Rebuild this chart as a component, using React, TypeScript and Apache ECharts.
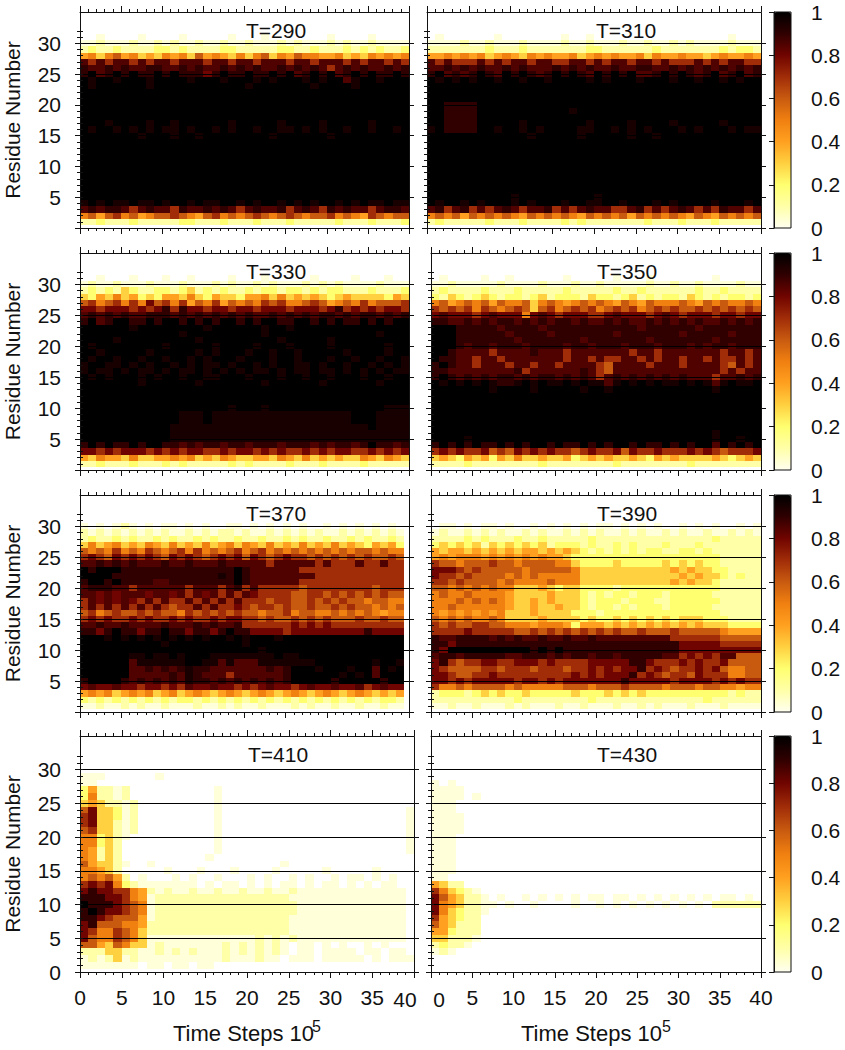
import React, { useEffect, useRef } from "react";
import * as echarts from "echarts";

// Each list holds residues 31 (first) down to 1 (last). One character per 1e5-step column:
// "." = 0.03, 0-9 = tenths, z = 0.85, y = 0.95, x = 1. A single character covers the whole row; short rows end in 0.
const T290 = [
  "00.0000.0000.00000.000.0000000.0000.0000",
  "..1...1..1.1..1..1..1...1.1...1.1..1....",
  "1211211112212111122111112211211121212112",
  "4535645343545364543535635465544534354545",
  "z7z7zz7z7zz7zzz7zz7zz7zzz7zz7zzz7z7zz7z7",
  "9zz9z9zz99zz9z9zz9z9z9zz9z9z9z7z9z9zz9z9",
  "9xz9x9x99x9x99989x99x99x9xz9x9xz9x9x99x9",
  "xyxxyxxxyxxxxyxxxyxxxyxyxxxyxyxxzyxxyxxx",
  "xyxxxxxxyxxxxxxxxxxxyxxxxxxxyxxxxyxxxxxx",
  "x", "x", "x", "x", "x",
  "xxxyxxxxyxxyxxxxxxyxxxxxyxxxxyxxxxxyxxxx",
  "xyxxyxyxyxyyxyxxyxyxxyxxyyxyxyxxyxxyxxyx",
  "xxxxxxxyxxxyxxyxxxxxxxxyxxxxxxyxxxxxxxxx",
  "x", "x", "x", "x", "x", "x", "x", "x", "x", "x",
  "yxyxyyxyyxyxxyxyyxxyxyxxyxyxyxxyxyxyyxyy",
  "z9z99z7z9zz79zz9z9z7z9zz97z9z79z9zz7z99z",
  "5646756456676546756567656765667565476566",
  "1121112111112211121112111211111211121112",
];
const T310 = [
  "0.000000.0000000.00.0000000000000000.000",
  "....1..1...1....1..1...1..1..1.1....1...",
  "1111111211121111111221111112111111121221",
  "4454545345435454453454544535445443454454",
  "z7z777z7z7zz7zz77zz7z7zz7zz7z777z7z7zz77",
  "zz9z9z9zz9z9zzz9z9z9zz9zz99zz9z9z9z9z9z9",
  "9xz9z9x9zx9x9z9x9x9zx9x9xzz9x9x9z9xz9xz9",
  "xyxyxyxxyxxyxxyxxxxyxyxxxyxxxyxxyxxyxyxx",
  "x", "x", "x",
  "xx9999xxxxxxxxxxxxxxxxxxxxxxxxxxxxxxxxxx",
  "xx9999xxxxxxxxxxxyxxxxxxxxxxxxxxxxxxxxxx",
  "xx9999xxxxxxxxxxxxxxxxxxxxxxxxxxxxxxxxxx",
  "xx9999xxxxxyxxxxxxxyxxxxyxxxxyxxxxxyxxxx",
  "yx9999xxyxxyxyxxxxyyxxyxyxyxxxyxyxxxyxyy",
  "xxxxxxxxxxxxyxxxxxyxxxxxyxxyxxxxxxxxxxxx",
  "x", "x", "x", "x", "x", "x", "x", "x", "x",
  "xxxxxxxxxxyxxxxxxxxxyxxxxxxxxxxxxxxxxxxx",
  "xyxxyxyxxxyxyxxxyxxyyxxyxxxyxyxxxxyxxxyx",
  "z97z97z7z9z7zz97z7z9zz77z97z7z9z7z79zz7z",
  "5656465656546565654656564656565465465656",
  "1211111211121111212111111121112111211111",
];
const T330 = [
  "00.000.000.00.0000.000.00000.0000.000.00",
  ".1..1...1...1...1.1..1.1...1.1.1....1...",
  "1212132112212312121121221221212211121112",
  "3243534232443532433244535343432343333243",
  "6756757586757465746565767556764565756667",
  "8878887878979887887887888788878978787887",
  "z9z9z9zz999z9z9z9z9z9zz9z9z9z99z9z99z9z9",
  "9xz9xx99x9xx9x9x9xx9x9xx99xx9x9x99x9x9xx",
  "xxxxxxyxxxxxxxxyxxxxxxyxxyxxxxxxxxxxxxxx",
  "xxxxxxxxxxxxyxxxxxxxxxyxxxxxxxxxxxxxyxxx",
  "xxxxyxxxxxxxxxyxxxxxxxxxyxxxxxyxxxxxxxxx",
  "xyxxxxxxxxyxxxxxyxxxxyxxxyxxxxyxxxxxxyxx",
  "xxyxxxxxyxxxxxyxyxxxyxxyxxyxxxxxyxxxxyxx",
  "xyxxyxxyxxyxxyxyxxxyxxxyxxyxxxyxxyxxyxxy",
  "yxxyyxyxyxxyxyxyyxyxxyxyxxyyxyxxyxxyxyxy",
  "yxyyxyxyyxyxyyxyxyxyxyyxyxyyxyyxyxyxyxyy",
  "xyxyxxxyxyxxyxxyyxxxyxxxyxxyxxyxxxyxxyxx",
  "xxxxxxxyxxxxxxyxxxxxxxyxxxxxxyxxxxxxyxxx",
  "x", "x", "x",
  "xxxxxxxxxxxxxxxxxxyxxxyxxxxxxxxxxxxxxyyy",
  "xxxxxxxxxxxxyyyxyyyyyyyyyyyyyyyyyxxxyyyy",
  "xxxxxxxxxxxxyyyxyyyyyyyyyyyyyyyyyxxxyyyy",
  "xxxxxxxxxxxyyyyyyyyyyyyyyyyyyyyyyyyxyyyy",
  "xxxxxxxxxxxyyyyyyyyyyyyyyyyyyyyyyyyyyyyy",
  "xxxxxxxxxxxyyyyyyyyyyyyyyyyyyyyyyyyyyyyy",
  "9x9x99x9xx99z9z99z99z999z999z9z99z9x99z9",
  "8878788878787887787887878778787887787878",
  "4354435334454534354334435435343433543543",
  "1121112111212111112121111211121111211111",
];
const T350 = [
  "0.0000.00.000000.00000.000.0000000.00000",
  "..1.....1....1...1..1.....1..1..1....1..",
  "1211112111211111211111211211111121121111",
  "2132123212212312221322123121221321212212",
  "5645656465563565456565465465556546565565",
  "7676757656763675676756767567676676767676",
  "8z88878z88858z87888778z88878z87888788788",
  "99zz9z9z99z9z9z99z9zz9z9zz9z9z9z9zz9z9z9",
  "xxx99999z9999z99999999999z999999z9999999",
  "xxx999999z9999z9999999z9999999z99999z999",
  "xxx9999999z9999999z9999999z9999999z99999",
  "xxx9z99z999z9999z99z999z999z999z9z99z999",
  "xx9zzzz7zzzz9zzz7zzzzzzz7zz7zzzzzzz7zz7z",
  "x99zz7zz7zzzzzzz7zz7z77zz7z7zz7zz7z77z7z",
  "9x9zz7zzz7zz7zz7zzzz76zzzz7zzz7zzzz76z7z",
  "99zzzzzzzz97zzzzzz9z76zzzzzzzzzzzzz7z7zz",
  "9x9z9z9z99z9z99z9z9z7z9z9z9z9z9zzz7zz9z9",
  "xyxyxyxy99yxyxyyxyxyyzyxyxyxyyxyxyzyxyyx",
  "xxxxxxxyxxxxyxxxxxyxxyxxxxxxxxxxxxyxxxxx",
  "x", "x", "x", "x", "x", "x",
  "xxxxxxxxxxxxxxxxxxxxxxxxxxxxxxxxxxyxxxxx",
  "xxxxyxxxxxxxxxxxxxxxxxxxxxxxxxxxxxyxxyxx",
  "9x9x9x99x9x9xx9x99x9x9xx9x99x9x9xxzx9x9x",
  "7878778676878787767877868778777878767778",
  "3432434243533433423434334324343333432343",
  "1111211111111211111111211111111211111111",
];
const T370 = [
  "0",
  ".0.0.1.0.0..0.0.00..0.0.0.0.00.0.0.0.0.0",
  "1.1.1.1.1.1..1.1.11.1..1.1.1.1..1.1.1.1.",
  "1211212112121121211211211212112112121121",
  "3534534354353435345354353435343534324342",
  "6565756576567575656756756565656565665655",
  "7876878787687876787868767877676767676676",
  "zz9z9z9zzz9zz9zzz9zzzzz7zzzzz7z777z77z77",
  "x9xxx99999999999999x9zzzzzz7777777777777",
  "xxxx9999999999999y9x9zzzzzzzz77777777777",
  "9xx9x9999zz99999999x9zzzzzz7777777777777",
  "z999zz7zzzzzz7zzz7z97z777776777777776777",
  "zz8z8zzz8zz8z7z8z7z7z8777766776767676766",
  "7z8z8z87z7z77z7z7z7z77767766767676656655",
  "7z7z7z7z7z7677z7z77876776766766767665656",
  "6756766767665767676766566756655656565455",
  "7878778787787877878877676676767666766766",
  "zz9zz9zzzz9zzz9z9zz977777787878777777777",
  "9989x99899x9989989x998888788888888898888",
  "xxxyxyxyxyxyxyxyxxyxyxxxyxxxxxxxxxxxxxxx",
  "xxxxxxxxxxyxxxxxxxxxyxxxxxxxxxxxxxxxxxxx",
  "xxxxxxxxxxxxxxxxxxxxxxyxxxxxxxxxxxxxxxxx",
  "xxxxxxyyxyyxyxxxyyyyyyyyxyyxxxxxxxxxxxxx",
  "xxxxxxzyyyyyyxxyyzyzzzyyyyyyyxxxxxxxyxxy",
  "xxxxxxzz9z9z9y99zzzzzzz9z9xxxyxxxyxxzxyx",
  "xxxxxxzzzzz9zy9zzz7zzzzzz9xxxxxxyxyxzxxx",
  "9xxxx9z9z9z9zy99z9z9z9z9z9xxxxx9xxxxx9xx",
  "8z88z88788787z88z887878z8878z88z88z78z88",
  "4545345453453454345434543454345434543434",
  "2121212121212212121212121212121212121221",
  "..1..1.1..1...1..1.1..1...1.1..1..1..1..",
];
const T390 = [
  "0",
  "0..0.0..0.00.0.0.0.0..0.0.0.00.0.0.00.0.",
  ".1..1.1.1..1.1..1.1.1..1.1..1.1..1..1.1.",
  "1111212111211211111211111111111111211111",
  "2323231323232312221211212111211121111111",
  "4344343434344343432121212122112212111111",
  "4545554545454544322222222222222222211111",
  "7665666766566665532222322222323232211111",
  "8887676666656666653333333333343433221111",
  "8776766665656555553333333333334343321211",
  "7767666656555565553333333333343433211111",
  "6656565655333432332222122222222222211111",
  "5655655554333343332121221222122222111111",
  "5556565654334343332122212221122222211111",
  "5565555554334334332122121222122222111111",
  "5454545453334333322212222222222222211111",
  "6565655653333433332322323232323332221111",
  "7676677665554555424443434343434343332222",
  "7777877777667676767676766766676666654444",
  "9zz9999z9z9zz9zz9zz9zzzzzzzzz77777766666",
  "9989999999999999999999999999998888877777",
  "98xxxxxxxxxx9x9x999999999999998888888888",
  "z99z99999zz999z9z99z99z99999zz78787zz666",
  "8976778877888787777888889987778787786666",
  "8766667767776777677878788978767787865566",
  "8876677877777777787878889787677687775566",
  "8878788888788787888888898888878888787877",
  "7556566665655555666566676666566656655455",
  "1222123232232222232223232322222222221211",
  "1111111111211111111211111111111112111111",
  "..1..1...1.1...1..1...1..1.1...1...1....",
];
const T410 = [
  "0",
  "0",
  "...000000.",
  "..000000",
  "2411.10000000000.",
  "2511.10000000000.",
  "34311.1000000000.",
  "68332.1000000000.0000000000000000000000.",
  "78332.1000000000.0000000000000000000000.",
  "78331.1000000000.0000000000000000000000.",
  "67331.1000000000.0000000000000000000000.",
  "55231.0000000000.0000000000000000000000.",
  "5523100000000000.0000000000000000000000.",
  "5413100000000000.0000000000000000000000.",
  "541310000000000.0000000000000000000000",
  "64331.00.000000000000000.00000000000000",
  "5543100000.000.000.0000.00000.00000.000",
  "5656410.000.0.00.000.0.00.0.00.0..0.0.0",
  "7878521.......0.0..0.0.0..0.0..0.0.0..0",
  "898877541.1..1..1..1..1..1.............",
  "99988754.1111111111111111..............",
  "x9998765.11111111111111111.............",
  "9x988765.11111111111111111.............",
  "99876664.1111111111111111..............",
  "8966655411111111111111111..............",
  "8755765311111111111111111..............",
  "86557653.............1.1.1.............",
  "66436533.1.......1.1.1.1.0..0.0.00.0.00",
  "1113311..1.1.1...1.1.1.1.0..0....0..0..",
  ".1.13.1..........1...1..0...0.....0.0...",
  ".......0..0..0..0",
];
const T430 = [
  "0",
  "0",
  "0",
  ".0.0",
  "....",
  "....0.",
  "...",
  "...",
  "....",
  "....",
  "....",
  "...",
  "...",
  "...",
  "...",
  "...",
  "...",
  "..0",
  "4311",
  "75321.",
  "864311.0.00.0.0.0.0..0..0.0.0.0.0.0..0.0",
  "854311..0.00.0000.00.0.0.0.0.0.0.0111111",
  "853211.",
  "743211",
  "643111",
  "442111",
  "33111.",
  "1211.",
  ".1.",
  "0",
  "0",
];

const xTicks = [0, 5, 10, 15, 20, 25, 30, 35, 40];
const majorY = [0, 5, 10, 15, 20, 25, 30];
const rampColors = ["#fffff0", "#ffffa8", "#ffff70", "#ffd040", "#ffa020", "#f08010", "#c85a10", "#a02c08", "#700400", "#300000", "#000000"];

const FONT = "Liberation Sans";
const INK = "#111";
const FS = 21;

const rowsBox = [
  { top: 12, bottom: 228 },
  { top: 253, bottom: 470 },
  { top: 495, bottom: 712 },
  { top: 736, bottom: 972 },
];
const panels = [
  { name: "T=290", rows: T290, row: 0, left: 80, right: 409, xEnd: 40, tx: 276 },
  { name: "T=310", rows: T310, row: 0, left: 427, right: 761, xEnd: 40, tx: 626 },
  { name: "T=330", rows: T330, row: 1, left: 80, right: 409, xEnd: 40, tx: 276 },
  { name: "T=350", rows: T350, row: 1, left: 431, right: 761, xEnd: 40, tx: 627 },
  { name: "T=370", rows: T370, row: 2, left: 80, right: 409, xEnd: 39.4, tx: 276 },
  { name: "T=390", rows: T390, row: 2, left: 431, right: 761, xEnd: 40, tx: 627 },
  { name: "T=410", rows: T410, row: 3, left: 80, right: 414, xEnd: 40, tx: 278 },
  { name: "T=430", rows: T430, row: 3, left: 431, right: 761, xEnd: 40, tx: 627 },
];

function charValue(c: string) {
  if (c === ".") return 0.03;
  if (c === "x") return 1;
  if (c === "y") return 0.95;
  if (c === "z") return 0.85;
  return Number(c) / 10;
}

function cells(rows: string[], xEnd: number) {
  const out: number[][] = [];
  const w = xEnd / 40;
  rows.forEach((row, i) => {
    const res = 31 - i;
    if (row.length === 1) {
      const v = charValue(row);
      if (v > 0) out.push([0, xEnd, res - 0.5, res + 0.5, v]);
      return;
    }
    for (let k = 0; k < row.length && k < 40; k++) {
      const v = charValue(row[k]);
      if (v > 0) out.push([k * w, (k + 1) * w, res - 0.5, res + 0.5, v]);
    }
  });
  return out;
}

function renderCell(_: any, api: any) {
  const a = api.coord([api.value(0), api.value(3)]);
  const b = api.coord([api.value(1), api.value(2)]);
  const x = Math.round(a[0]);
  const y = Math.round(a[1]);
  return {
    type: "rect",
    shape: { x, y, width: Math.round(b[0]) - x, height: Math.round(b[1]) - y },
    style: { fill: api.visual("color") },
  };
}

function buildOption() {
  const grid: any[] = [];
  const xAxis: any[] = [];
  const yAxis: any[] = [];
  const series: any[] = [];
  const graphic: any[] = [];
  const visualMap: any[] = [];
  const line = { lineStyle: { color: INK, width: 1 } };
  const labelStyle = { fontFamily: FONT, fontSize: FS, color: INK };

  panels.forEach((p, i) => {
    const box = rowsBox[p.row];
    const frameH = box.bottom - box.top;
    const gridTop = Math.round(box.bottom - (frameH * 32) / 35);
    const isBottom = p.row === 3;
    const isLeft = i % 2 === 0;
    grid.push({ left: p.left, width: p.right - p.left, top: gridTop, height: box.bottom - gridTop });

    const xIdx = xAxis.length;
    xAxis.push({
      type: "value", gridIndex: i, min: 0, max: 40, interval: 5, position: "bottom", z: 5,
      splitLine: { show: false },
      axisLine: { show: true, onZero: false, ...line },
      axisTick: { show: true, length: 6, inside: false, ...line },
      minorTick: { show: true, splitNumber: 5, length: 3, ...line },
      axisLabel: {
        show: isBottom, margin: 15, ...labelStyle, hideOverlap: false, showMinLabel: true, showMaxLabel: true,
        formatter: (v: number) => {
          if (i === 6 && v === 40) return "";
          if (i === 7 && v === 0) return "";
          return xTicks.includes(v) ? String(v) : "";
        },
      },
    });
    xAxis.push({
      type: "value", gridIndex: i, min: 0, max: 40, interval: 5, position: "top", offset: gridTop - box.top, z: 5,
      splitLine: { show: false },
      axisLine: { show: true, onZero: false, ...line },
      axisTick: { show: true, length: 6, inside: false, ...line },
      minorTick: { show: true, splitNumber: 5, length: 3, ...line },
      axisLabel: { show: false },
    });

    const yIdx = yAxis.length;
    const majorAxis = (position: string, withLabels: boolean, split: boolean) => ({
      type: "value", gridIndex: i, min: 0, max: 32, interval: 5, position, z: 5,
      splitLine: { show: split, showMinLine: false, showMaxLine: true, lineStyle: { color: "#000", width: 1 } },
      axisLine: { show: true, onZero: false, ...line },
      axisTick: { show: true, length: 5, customValues: majorY, ...line },
      axisLabel: {
        show: withLabels, margin: 19, ...labelStyle,
        formatter: (v: number) => (majorY.includes(v) && (isBottom || v > 0) ? String(v) : ""),
      },
    });
    const minorAxis = (position: string) => ({
      type: "value", gridIndex: i, min: 0, max: 32, interval: 1, position, z: 5,
      splitLine: { show: false },
      axisLine: { show: false },
      axisTick: { show: true, length: 3, ...line },
      axisLabel: { show: false },
    });
    yAxis.push(majorAxis("left", isLeft, true), majorAxis("right", false, false), minorAxis("left"), minorAxis("right"));

    series.push({
      type: "custom", name: p.name, xAxisIndex: xIdx, yAxisIndex: yIdx, progressive: 0, silent: true, z: 2,
      encode: { x: [0, 1], y: [2, 3] },
      renderItem: renderCell,
      data: cells(p.rows, p.xEnd),
    });

    graphic.push({
      type: "rect", silent: true, z: 20,
      shape: { x: p.left + 0.5, y: box.top + 0.5, width: p.right - p.left, height: frameH },
      style: { fill: "none", stroke: INK, lineWidth: 1 },
    });
    graphic.push({
      type: "text", silent: true, z: 20, x: p.tx, y: box.top + 18.5,
      style: { text: p.name, fontFamily: FONT, fontSize: FS, fill: INK, align: "center", verticalAlign: "middle" },
    });
    if (isLeft) {
      graphic.push({
        type: "text", silent: true, z: 20, x: 12, y: (box.top + box.bottom) / 2, rotation: Math.PI / 2,
        style: { text: "Residue Number", fontFamily: FONT, fontSize: FS, fill: INK, align: "center", verticalAlign: "middle" },
      });
    }
  });

  rowsBox.forEach((box, r) => {
    const height = box.bottom - box.top;
    const gi = grid.length;
    visualMap.push({
      type: "continuous", min: 0, max: 1, dimension: 4, seriesIndex: [r * 2, r * 2 + 1],
      calculable: false, realtime: false, hoverLink: false, show: true, orient: "vertical", z: 1,
      left: 774, top: box.top, itemWidth: 17, itemHeight: height, padding: 0, text: null,
      inRange: { color: rampColors },
    });
    grid.push({ left: 774, width: 17, top: box.top, height, show: true, borderColor: INK, borderWidth: 1, backgroundColor: "transparent", z: 10 });
    xAxis.push({ type: "value", gridIndex: gi, min: 0, max: 1, show: false });
    yAxis.push({
      type: "value", gridIndex: gi, min: 0, max: 1, interval: 0.2, position: "right", z: 10,
      splitLine: { show: false },
      axisLine: { show: true, ...line },
      axisTick: { show: true, inside: true, length: 5, ...line },
      axisLabel: { show: true, margin: 20, ...labelStyle },
    });
  });

  const lastTop = 999;
  const nameStyle = { fontFamily: FONT, fontSize: 22, fill: INK, align: "left", verticalAlign: "middle" };
  const supStyle = { fontFamily: FONT, fontSize: 16, fill: INK, align: "left", verticalAlign: "middle" };
  graphic.push(
    { type: "text", silent: true, z: 20, x: 405, y: lastTop, style: { text: "40", fontFamily: FONT, fontSize: FS, fill: INK, align: "center", verticalAlign: "middle" } },
    { type: "text", silent: true, z: 20, x: 439, y: lastTop, style: { text: "0", fontFamily: FONT, fontSize: FS, fill: INK, align: "center", verticalAlign: "middle" } },
    { type: "text", silent: true, z: 20, x: 173, y: 1033, style: { text: "Time Steps 10", ...nameStyle } },
    { type: "text", silent: true, z: 20, x: 312, y: 1026, style: { text: "5", ...supStyle } },
    { type: "text", silent: true, z: 20, x: 521, y: 1033, style: { text: "Time Steps 10", ...nameStyle } },
    { type: "text", silent: true, z: 20, x: 662, y: 1026, style: { text: "5", ...supStyle } },
  );

  return { animation: false, backgroundColor: "#fff", grid, xAxis, yAxis, series, visualMap, graphic };
}

export default function App() {
  const ref = useRef<HTMLDivElement>(null);
  useEffect(() => {
    const chart = echarts.init(ref.current!, undefined, { renderer: "svg" });
    chart.setOption(buildOption() as any);
    return () => chart.dispose();
  }, []);
  return <div ref={ref} style={{ position: "absolute", left: 0, top: 0, width: 845, height: 1050 }} />;
}
